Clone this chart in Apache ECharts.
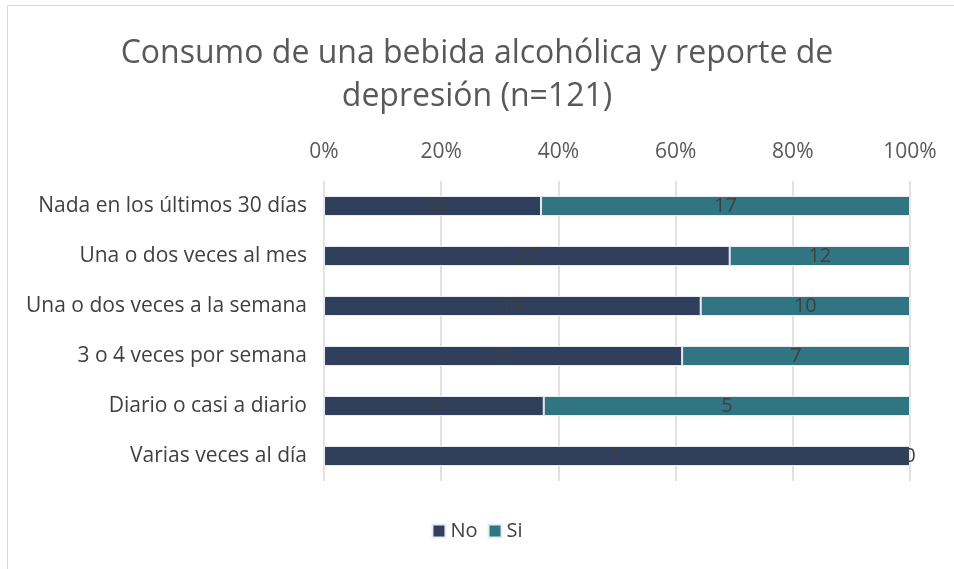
<!DOCTYPE html>
<html>
<head>
<meta charset="utf-8">
<script src="https://cdn.jsdelivr.net/npm/echarts@6/dist/echarts.min.js"></script>
<style>
  html, body { margin: 0; padding: 0; background: #fff; }
  #chart { width: 954px; height: 569px; }
</style>
</head>
<body>
<div id="chart"></div>
<script>
const categories = [
  "Nada en los últimos 30 días",
  "Una o dos veces al mes",
  "Una o dos veces a la semana",
  "3 o 4 veces por semana",
  "Diario o casi a diario",
  "Varias veces al día",
];
const noCounts = [10, 27, 18, 11, 3, 1];
const siCounts = [17, 12, 10, 7, 5, 0];
const tickLabels = ["0%", "20%", "40%", "60%", "80%", "100%"];

const totals = noCounts.map((n, i) => n + siCounts[i]);
const noShare = noCounts.map((n, i) => n / totals[i]);
const siShare = siCounts.map((s, i) => s / totals[i]);

const FONT = "Open Sans";
const chart = echarts.init(document.getElementById("chart"));

const barLabel = (counts) => ({
  show: true,
  position: "inside",
  color: "#404040",
  fontSize: 20,
  fontFamily: FONT,
  formatter: ({ dataIndex }) => `${counts[dataIndex]}`,
});

chart.setOption({
  animation: false,
  backgroundColor: "#fff",
  title: {
    text: "Consumo de una bebida alcohólica y reporte de\ndepresión (n=121)",
    left: "center",
    top: 27,
    textStyle: {
      color: "#595959",
      fontSize: 32,
      fontWeight: "normal",
      fontFamily: FONT,
      lineHeight: 43,
    },
  },
  legend: {
    data: ["No", "Si"],
    bottom: 23,
    left: "center",
    icon: "rect",
    itemWidth: 13,
    itemHeight: 13,
    itemGap: 10,
    textStyle: { color: "#404040", fontSize: 20, fontFamily: FONT },
  },
  grid: { left: 324, right: 44, top: 181, bottom: 88 },
  xAxis: {
    type: "value",
    position: "top",
    min: 0,
    max: 1,
    interval: 0.2,
    axisLine: { show: false },
    axisTick: { show: false },
    axisLabel: {
      color: "#595959",
      fontSize: 21,
      fontFamily: FONT,
      margin: 18,
      formatter: (v) => tickLabels[Math.round(v * 5)],
    },
    splitLine: { lineStyle: { color: "#d9d9d9", width: 1.5 } },
  },
  yAxis: {
    type: "category",
    inverse: true,
    data: categories,
    axisLine: { show: false },
    axisTick: { show: false },
    axisLabel: { color: "#404040", fontSize: 21, fontFamily: FONT, margin: 17 },
  },
  series: [
    {
      name: "No",
      type: "bar",
      stack: "total",
      barWidth: "40%",
      data: noShare,
      itemStyle: { color: "#2f3f5c", borderColor: "#e8ebef", borderWidth: 1 },
      label: barLabel(noCounts),
    },
    {
      name: "Si",
      type: "bar",
      stack: "total",
      barWidth: "40%",
      data: siShare,
      itemStyle: { color: "#327582", borderColor: "#e8ebef", borderWidth: 1 },
      label: barLabel(siCounts),
    },
  ],
  graphic: [
    {
      type: "rect",
      shape: { x: 7.5, y: 5.5, width: 960, height: 570 },
      style: { fill: "none", stroke: "#d9d9d9", lineWidth: 1 },
      silent: true,
    },
  ],
});
</script>
</body>
</html>
